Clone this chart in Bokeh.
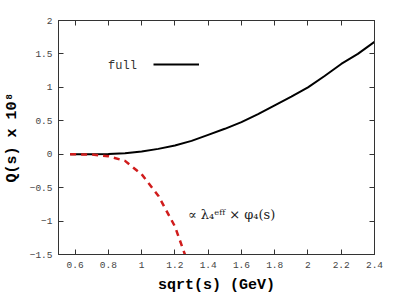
from bokeh.plotting import figure
from bokeh.models import LinearAxis, FixedTicker, Label, Legend, LegendItem, Range1d, CustomJSTickFormatter
from bokeh.embed import file_html
from bokeh.resources import INLINE

# full result
sqrt_s_full = [0.57, 0.7, 0.8, 0.9, 1.0, 1.1, 1.2, 1.3, 1.4, 1.5, 1.6, 1.7, 1.8, 1.9, 2.0, 2.1, 2.2, 2.3, 2.4]
q_full = [0.0, 0.0, 0.003, 0.015, 0.04, 0.08, 0.13, 0.2, 0.29, 0.38, 0.48, 0.6, 0.73, 0.86, 1.0, 1.17, 1.35, 1.5, 1.68]
# lambda_4^eff x phi_4(s) contribution
sqrt_s_lam = [0.57, 0.7, 0.8, 0.9, 1.0, 1.1, 1.2, 1.26]
q_lam = [0.0, -0.005, -0.03, -0.10, -0.30, -0.62, -1.08, -1.5]

x_ticks = [0.6, 0.8, 1.0, 1.2, 1.4, 1.6, 1.8, 2.0, 2.2, 2.4]
y_ticks = [-1.5, -1.0, -0.5, 0.0, 0.5, 1.0, 1.5, 2.0]

FONT = "Liberation Mono"
AXC = "#333333"

p = figure(width=396, height=296, output_backend="svg", toolbar_location=None,
           x_range=Range1d(0.5, 2.4), y_range=Range1d(-1.5, 2.0),
           min_border_left=58, min_border_right=22, min_border_top=20, min_border_bottom=40,
           x_axis_label="sqrt(s) (GeV)", y_axis_label="Q(s) x 10⁸")
p.grid.visible = False
p.outline_line_color = AXC
p.background_fill_color = "white"

bottom = p.below[0]
left = p.left[0]
bottom.ticker = FixedTicker(ticks=x_ticks)
left.ticker = FixedTicker(ticks=y_ticks)

blank = CustomJSTickFormatter(code="return ''")
top = LinearAxis(ticker=FixedTicker(ticks=x_ticks), formatter=blank, major_label_standoff=0)
right = LinearAxis(ticker=FixedTicker(ticks=y_ticks), formatter=blank, major_label_standoff=0)
p.add_layout(top, "above")
p.add_layout(right, "right")

for ax in [bottom, left, top, right]:
    ax.axis_line_color = AXC
    ax.major_tick_line_color = AXC
    ax.major_tick_in = 5
    ax.major_tick_out = 0
    ax.minor_tick_line_color = None
for ax in [bottom, left]:
    ax.major_label_text_font = FONT
    ax.major_label_text_color = "#444444"
    ax.major_label_text_font_size = "9.5px"
    ax.axis_label_text_font = FONT
    ax.axis_label_text_font_style = "bold"
    ax.axis_label_text_font_size = "15px"
    ax.axis_label_text_color = "black"
bottom.major_label_standoff = 7
bottom.axis_label_standoff = 6
left.major_label_standoff = 6
left.axis_label_standoff = 6

r_full = p.line(sqrt_s_full, q_full, line_color="black", line_width=2)
r_lam = p.line(sqrt_s_lam, q_lam, line_color="#d01c1c", line_width=2.5, line_dash="6 5")

legend = Legend(items=[LegendItem(label="", renderers=[r_full])], location=(95, 180),
                glyph_width=46, glyph_height=20, label_height=20, label_width=0, label_standoff=0,
                padding=0, margin=0, border_line_color=None, background_fill_alpha=0)
p.add_layout(legend)

p.add_layout(Label(x=0.798, y=1.32, text="full", text_font=FONT, text_font_size="12px",
                   text_color="#333333", text_baseline="middle"))
p.add_layout(Label(x=1.278, y=-0.905, text="∝ λ₄ᵉᶠᶠ × φ₄(s)", text_font="DejaVu Serif",
                   text_font_size="13px", text_color="#222222", text_baseline="middle"))

open("out.html", "w").write(file_html(p, INLINE))
